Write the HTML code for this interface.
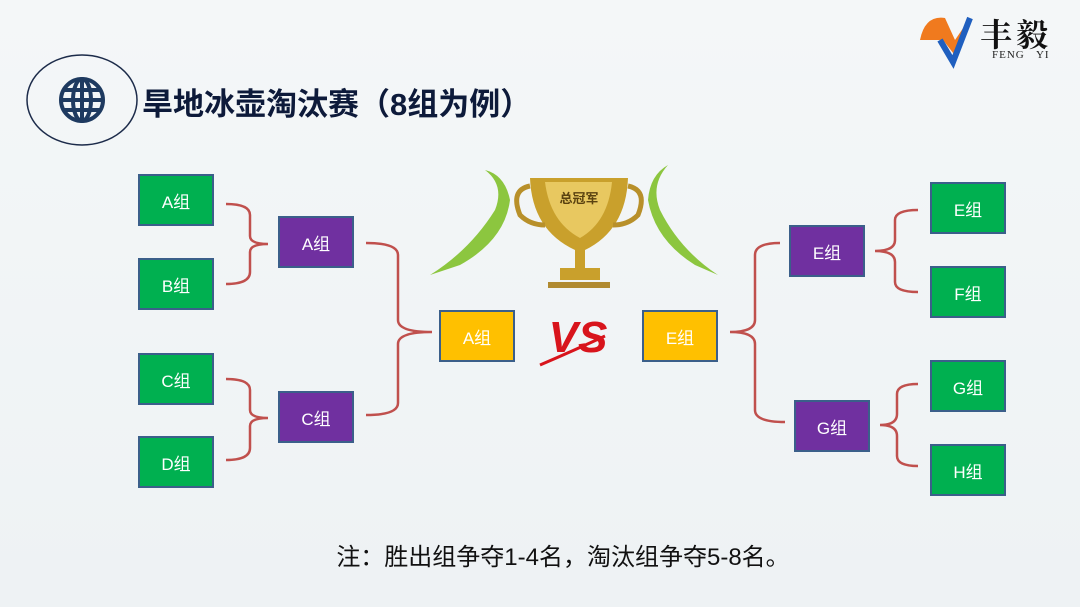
<!DOCTYPE html>
<html><head><meta charset="utf-8"><style>
body{margin:0;width:1080px;height:607px;overflow:hidden;background:linear-gradient(#f4f7f8,#eef2f4);font-family:"Liberation Sans","Noto Sans CJK SC",sans-serif;position:relative}
.b{position:absolute;width:76px;height:52px;box-sizing:border-box;border:2px solid #3b5f8a;color:#fff;font-size:17px;display:flex;align-items:center;justify-content:center}
.g{background:#00b050}.p{background:#7030a0}.y{background:#ffc000}
</style></head><body>
<svg width="1080" height="607" style="position:absolute;left:0;top:0">
<ellipse cx="82" cy="100" rx="55" ry="45" fill="none" stroke="#1c2b4a" stroke-width="1.5"/>
<g stroke="#1e3a60" stroke-width="4" fill="none"><circle cx="82" cy="100" r="21"/><ellipse cx="82" cy="100" rx="9" ry="21"/><line x1="82" y1="79" x2="82" y2="121"/><line x1="61" y1="100" x2="103" y2="100"/><line x1="64" y1="90" x2="100" y2="90"/><line x1="64" y1="110" x2="100" y2="110"/></g>
<g stroke="#c0504d" stroke-width="2.5" fill="none">
<path d="M226 204 Q250 204 250 215 V236 Q250 244 268 244 M226 284 Q250 284 250 272 V252 Q250 244 268 244"/>
<path d="M226 379 Q250 379 250 390 V410 Q250 418 268 418 M226 460 Q250 460 250 448 V426 Q250 418 268 418"/>
<path d="M366 243 Q398 243 398 255 V320 Q398 332 432 332 M366 415 Q398 415 398 403 V344 Q398 332 432 332"/>
<path d="M730 332 Q755 332 755 320 V255 Q755 243 780 243 M730 332 Q755 332 755 344 V410 Q755 422 785 422"/>
<path d="M875 251 Q895 251 895 240 V220 Q895 210 918 210 M875 251 Q895 251 895 262 V282 Q895 292 918 292"/>
<path d="M880 425 Q897 425 897 414 V394 Q897 384 918 384 M880 425 Q897 425 897 436 V456 Q897 466 918 466"/>
</g>
<g fill="#8cc63f"><path d="M430 275 Q470 250 495 210 Q505 185 485 170 Q505 175 510 200 Q505 240 460 265 Z"/><path d="M718 275 Q680 250 660 210 Q650 185 668 165 Q650 175 648 200 Q655 240 695 265 Z"/></g>
<g><path d="M530 178 H628 Q626 230 585 250 V268 H600 V280 H560 V268 H575 V250 Q532 230 530 178Z" fill="#c9a02c"/><path d="M545 182 H612 Q608 222 580 238 Q550 222 545 182Z" fill="#e8c860"/><path d="M530 186 Q510 190 520 215 Q530 225 545 225" stroke="#b8902a" stroke-width="5" fill="none"/><path d="M628 186 Q648 190 638 215 Q628 225 613 225" stroke="#b8902a" stroke-width="5" fill="none"/><rect x="548" y="282" width="62" height="6" fill="#b08a30"/><text x="579" y="203" font-size="13" font-weight="bold" fill="#5a4210" text-anchor="middle" font-family="Noto Sans CJK SC,sans-serif">总冠军</text></g>
<text x="578" y="352" font-size="44" font-weight="bold" font-style="italic" fill="#d8141c" text-anchor="middle" font-family="Liberation Sans,sans-serif">VS</text>
<path d="M540 365 Q575 350 605 336" stroke="#d8141c" stroke-width="3" fill="none"/>
<path d="M920 40 Q925 15 945 18 L955 40 L970 18 L957 58 L943 40 Z" fill="#f07a1e"/><path d="M940 40 L953 62 L970 18" stroke="#1f5fbf" stroke-width="6" fill="none"/>
</svg>
<div style="position:absolute;left:980px;top:10px;font-size:32px;font-weight:bold;color:#111;font-family:'Noto Serif CJK SC',serif;letter-spacing:4px">丰毅</div>
<div style="position:absolute;left:992px;top:49px;font-size:11px;color:#222;font-family:'Liberation Serif',serif;letter-spacing:1px">FENG&nbsp;&nbsp;&nbsp;YI</div>
<div style="position:absolute;left:142px;top:79px;font-size:31px;font-weight:bold;color:#0d1a3a">旱地冰壶淘汰赛（8组为例）</div>
<div class="b g" style="left:138px;top:174px">A组</div>
<div class="b g" style="left:138px;top:258px">B组</div>
<div class="b g" style="left:138px;top:353px">C组</div>
<div class="b g" style="left:138px;top:436px">D组</div>
<div class="b p" style="left:278px;top:216px">A组</div>
<div class="b p" style="left:278px;top:391px">C组</div>
<div class="b y" style="left:439px;top:310px">A组</div>
<div class="b y" style="left:642px;top:310px">E组</div>
<div class="b p" style="left:789px;top:225px">E组</div>
<div class="b p" style="left:794px;top:400px">G组</div>
<div class="b g" style="left:930px;top:182px">E组</div>
<div class="b g" style="left:930px;top:266px">F组</div>
<div class="b g" style="left:930px;top:360px">G组</div>
<div class="b g" style="left:930px;top:444px">H组</div>
<div style="position:absolute;left:0;width:1126px;text-align:center;top:537px;font-size:24px;color:#111">注：胜出组争夺1-4名，淘汰组争夺5-8名。</div>
</body></html>
